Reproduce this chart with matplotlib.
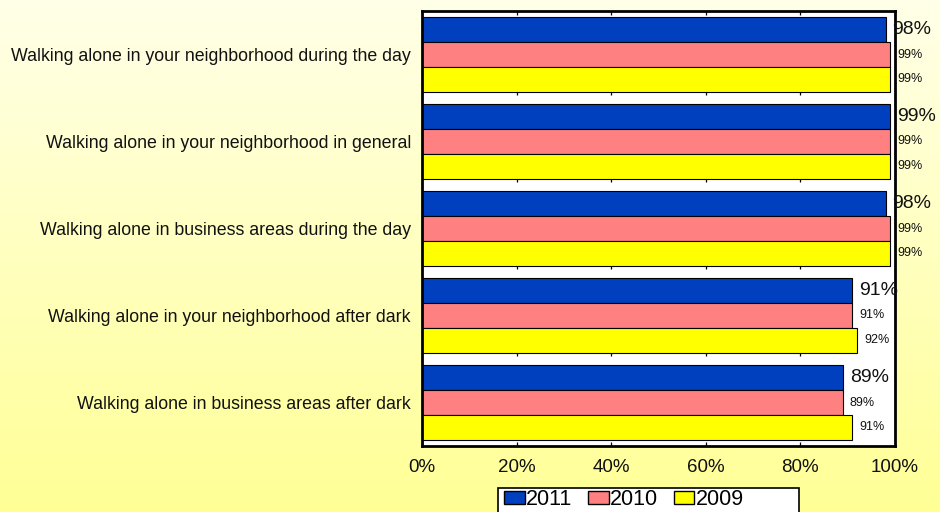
import numpy as np
import matplotlib
matplotlib.use("Agg")
import matplotlib.pyplot as plt
from matplotlib.colors import LinearSegmentedColormap
from matplotlib.patches import Rectangle

plt.rcParams['font.family'] = ['Liberation Sans', 'DejaVu Sans']

# data
categories = ["Walking alone in your neighborhood during the day",
              "Walking alone in your neighborhood in general",
              "Walking alone in business areas during the day",
              "Walking alone in your neighborhood after dark",
              "Walking alone in business areas after dark"]
years = ["2011", "2010", "2009"]
vals_2011 = [98, 99, 98, 91, 89]
vals_2010 = [99, 99, 99, 91, 89]
vals_2009 = [99, 99, 99, 92, 91]
x_ticks = [0, 20, 40, 60, 80, 100]

series = [vals_2011, vals_2010, vals_2009]
colors = ['#0040BF', '#FF8080', '#FFFF00']
label_sizes = [14, 9, 9]

fig = plt.figure(figsize=(9.4, 5.12), dpi=100)

# gradient background
bg = fig.add_axes([0, 0, 1, 1], zorder=-10)
grad = np.linspace(0, 1, 256).reshape(-1, 1)
cmap = LinearSegmentedColormap.from_list('bg', ['#FFFFE8', '#FFFF96'])
bg.imshow(grad, aspect='auto', cmap=cmap, extent=[0, 1, 0, 1], origin='upper')
bg.axis('off')

ax = fig.add_axes([422 / 940, 1 - 446 / 512, 473 / 940, 435 / 512])
ax.set_facecolor('white')

y = np.arange(len(categories))
h = 0.287
for k, (vals, c) in enumerate(zip(series, colors)):
    pos = y + (k - 1) * h
    ax.barh(pos, vals, height=h, color=c, edgecolor='black', linewidth=0.8,
            label=years[k], zorder=2)
    for p, v in zip(pos, vals):
        ax.annotate(f"{v}%", (v, p), xytext=(5, 0),
                    textcoords='offset points', va='center', ha='left',
                    fontsize=label_sizes[k], color='#111111',
                    annotation_clip=False, zorder=5)

# short tick marks in the gaps between groups
for b in y[:-1]:
    ax.vlines(x_ticks[1:-1], b + 1.5 * h, b + 1.5 * h + 0.035, color='black',
              linewidth=0.9, zorder=1)

ax.set_xlim(0, 100)
ax.set_ylim(len(categories) - 0.5, -0.5)
ax.set_xticks(x_ticks)
ax.set_xticklabels([f"{t}%" for t in x_ticks], fontsize=13.5, color='#111111')
ax.set_yticks(y)
ax.set_yticklabels(categories, fontsize=12.75, color='#111111')
ax.tick_params(axis='y', length=0, pad=8)
ax.tick_params(axis='x', direction='in', top=True, length=3, width=0.9, pad=9)
for s in ax.spines.values():
    s.set_linewidth(2)
    s.set_color('black')

# legend box (runs off the bottom edge like the original)
fig.patches.append(Rectangle((498 / 940, -0.05), 301 / 940, 0.05 + 24 / 512,
                             transform=fig.transFigure, facecolor='white',
                             edgecolor='black', linewidth=1.2, zorder=3))
leg = fig.legend(loc='upper left', bbox_to_anchor=(502 / 940, 1 - 487 / 512),
                 ncol=3, fontsize=15.5, frameon=False, handlelength=0.95,
                 handleheight=0.55, handletextpad=0.05, columnspacing=0.75,
                 borderpad=0.1, borderaxespad=0)
leg.set_zorder(4)
for patch in leg.get_patches():
    patch.set_linewidth(1)

fig.savefig('out.png', dpi=100)
